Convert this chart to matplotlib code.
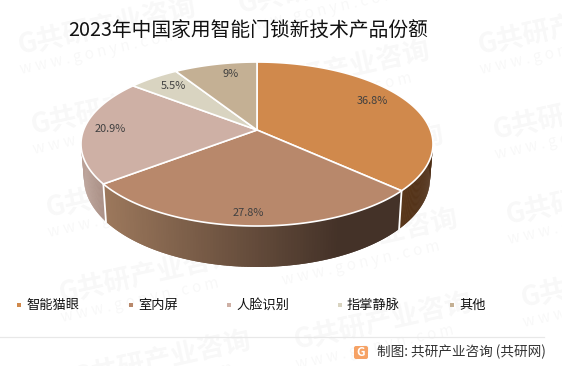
import numpy as np
import matplotlib.pyplot as plt
from matplotlib.patches import FancyBboxPatch

plt.rcParams['font.family'] = ['Noto Sans CJK SC', 'DejaVu Sans']

labels = ['智能猫眼', '室内屏', '人脸识别', '指掌静脉', '其他']
values = [36.8, 27.8, 20.9, 5.5, 9]
value_text = ['36.8%', '27.8%', '20.9%', '5.5%', '9%']
colors = ['#d0894c', '#b8886b', '#ceb0a5', '#d9d4c1', '#c4b094']
title = '2023年中国家用智能门锁新技术产品份额'
source = '制图: 共研产业咨询 (共研网)'

# 라벨 / 범례 위치 (픽셀)
label_pos = [(372, 101), (248, 213), (110, 129), (173, 86), (231, 74)]
legend_sq = [19, 131, 229, 340, 452]
# 워터마크 G 위치 (픽셀)
marks = [(27, 45), (40, 125), (55, 208), (68, 293), (82, 378),
         (247, 4), (261, 88), (275, 172), (289, 256), (303, 340),
         (487, 45), (502, 130), (515, 215), (530, 298)]

CX, CY = 257, 130
RX, RY, K = 173.4, 79.6, 0.171


# 원근 투영: 12시 방향에서 시계방향 각도
def top_face(deg):
    a = np.radians(deg)
    w = 1 + K * np.cos(a)
    return CX + RX * np.sin(a) / w, CY - RY * np.cos(a) / w


def bottom_face(deg):
    x, y = top_face(deg)
    return CX + (x - CX) * 0.983, 163.3 + (y - CY) * 1.08


def mix(c1, c2, t):
    return tuple((a + (b - a) * t) / 255 for a, b in zip(c1, c2))


fig = plt.figure(figsize=(5.62, 3.66), dpi=100)
ax = fig.add_axes([0, 0, 1, 1])
ax.set_xlim(0, 562)
ax.set_ylim(366, 0)
ax.axis('off')

edges = np.concatenate([[0], np.cumsum(values)]) * 3.6

# 옆면 (왼쪽 밝고 오른쪽 어두운 그라데이션)
side_left = [(92, 58, 28), (156, 120, 92), (186, 160, 150)]
side_right = [(78, 46, 22), (68, 50, 40), (168, 142, 132)]
side_span = [(395, 432), (105, 340), (82, 106)]
ranges = [(85, edges[1]), (edges[1], edges[2]), (edges[2], 275)]
for i, (a0, a1) in enumerate(ranges):
    steps = np.linspace(a0, a1, 120)
    for j in range(len(steps) - 2):
        # 이음새가 보이지 않게 한 칸씩 겹쳐 그림
        s = steps[j:j + 3]
        tx, ty = top_face(s)
        bx, by = bottom_face(s)
        t = np.clip((tx[0] - side_span[i][0]) / (side_span[i][1] - side_span[i][0]), 0, 1)
        ax.fill(np.r_[tx, bx[::-1]], np.r_[ty, by[::-1]], color=mix(side_left[i], side_right[i], t),
                lw=0, zorder=2)

for a in edges[1:3]:
    tx, ty = top_face(a)
    bx, by = bottom_face(a)
    ax.plot([tx, bx], [ty, by], color='white', lw=1.3, zorder=3)

# 윗면
for i in range(len(values)):
    s = np.linspace(edges[i], edges[i + 1], 120)
    x, y = top_face(s)
    ax.fill(np.r_[CX, x], np.r_[CY, y], facecolor=colors[i], edgecolor='white',
            lw=1.2, joinstyle='round', zorder=4)

for (x, y), t in zip(label_pos, value_text):
    ax.text(x, y, t, fontsize=7.9, color='#404040', ha='center', va='center', zorder=6)

ax.text(68, 30, title, fontsize=14.2, color='#111111', ha='left', va='center', zorder=6)

ax.scatter(legend_sq, [305] * 5, marker='s', s=12, c=colors, linewidths=0, zorder=6)
for x, t in zip(legend_sq, labels):
    ax.text(x + 7, 305, t, fontsize=9.5, color='#111111', ha='left', va='center', zorder=6)

ax.plot([0, 544], [337, 337], color='#e8e8e8', lw=0.9, zorder=1)
ax.add_patch(FancyBboxPatch((354, 346), 14, 13, boxstyle='round,pad=0,rounding_size=2',
                            fc='#f6a265', ec='none', zorder=6))
ax.text(361, 352, 'G', fontsize=8.5, fontweight='bold', color='white',
        ha='center', va='center', zorder=7)
ax.text(377, 352, source, fontsize=9.8, color='#333333', ha='left', va='center', zorder=6)

# 워터마크 (파이 아래)
for x, y in marks:
    ax.text(x + 80, y - 18, 'G共研产业咨询', fontsize=19.5, fontweight='bold', color='black',
            alpha=0.03, rotation=12.5, ha='center', va='center', zorder=0, clip_on=True)
    ax.text(x + 72, y + 7, 'w w w . g o n y n . c o m', fontsize=11, color='black',
            alpha=0.03, rotation=12.5, ha='center', va='center', zorder=0, clip_on=True)

fig.savefig('out.png', dpi=100)
